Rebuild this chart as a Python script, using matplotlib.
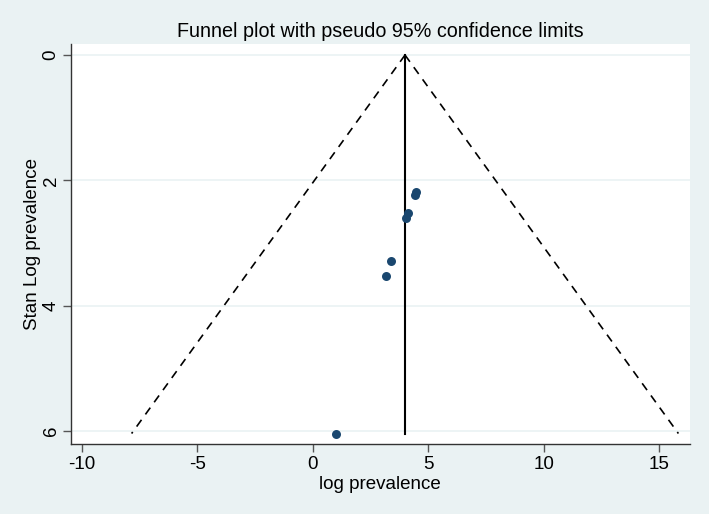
import matplotlib
matplotlib.use("Agg")
import matplotlib.pyplot as plt
import numpy as np

plt.rcParams['font.family'] = ['Liberation Sans', 'DejaVu Sans']
plt.rcParams['axes.unicode_minus'] = False

# Study data (log prevalence, standard error)
log_prev = [4.49, 4.45, 4.12, 4.05, 3.39, 3.19, 1.02]
se_log_prev = [2.18, 2.24, 2.52, 2.60, 3.29, 3.53, 6.04]
theta = 4.0  # pooled estimate
x_ticks = [-10, -5, 0, 5, 10, 15]
y_ticks = [0, 2, 4, 6]

bg = '#EAF2F3'
fig = plt.figure(figsize=(7.09, 5.14), dpi=100, facecolor=bg)
ax = fig.add_axes([0.0997, 0.1362, 0.8735, 0.7782])
ax.set_facecolor('white')

se_max = max(se_log_prev)
se_line = np.array([0.0, se_max])
ax.plot(theta - 1.96 * se_line, se_line, color='black', lw=1.2, ls=(0, (5, 4)))
ax.plot(theta + 1.96 * se_line, se_line, color='black', lw=1.2, ls=(0, (5, 4)))
ax.plot([theta, theta], [0, se_max], color='black', lw=1.5)

ax.scatter(log_prev, se_log_prev, s=42, color='#1a476f', zorder=3, linewidths=0)

ax.set_xlim(-10.476, 16.34)
ax.set_ylim(6.207, -0.176)
ax.set_xticks(x_ticks)
ax.set_yticks(y_ticks)
ax.set_yticklabels([str(v) for v in y_ticks], rotation=90, va='center')
ax.grid(axis='y', color=bg, lw=1.2)
ax.set_axisbelow(True)

for s in ['top', 'right']:
    ax.spines[s].set_visible(False)
for s in ['left', 'bottom']:
    ax.spines[s].set_color('#333333')
    ax.spines[s].set_linewidth(1.0)
ax.tick_params(axis='both', colors='#555555', length=6, width=1, labelsize=13.5, labelcolor='black', pad=3)
ax.tick_params(axis='y', pad=2)

ax.set_xlabel('log prevalence', fontsize=13.5, labelpad=2)
ax.set_ylabel('Stan Log prevalence', fontsize=13.5, labelpad=1)
ax.set_title('Funnel plot with pseudo 95% confidence limits', fontsize=14.2, pad=5)

fig.savefig('out.png', dpi=100, facecolor=bg)
